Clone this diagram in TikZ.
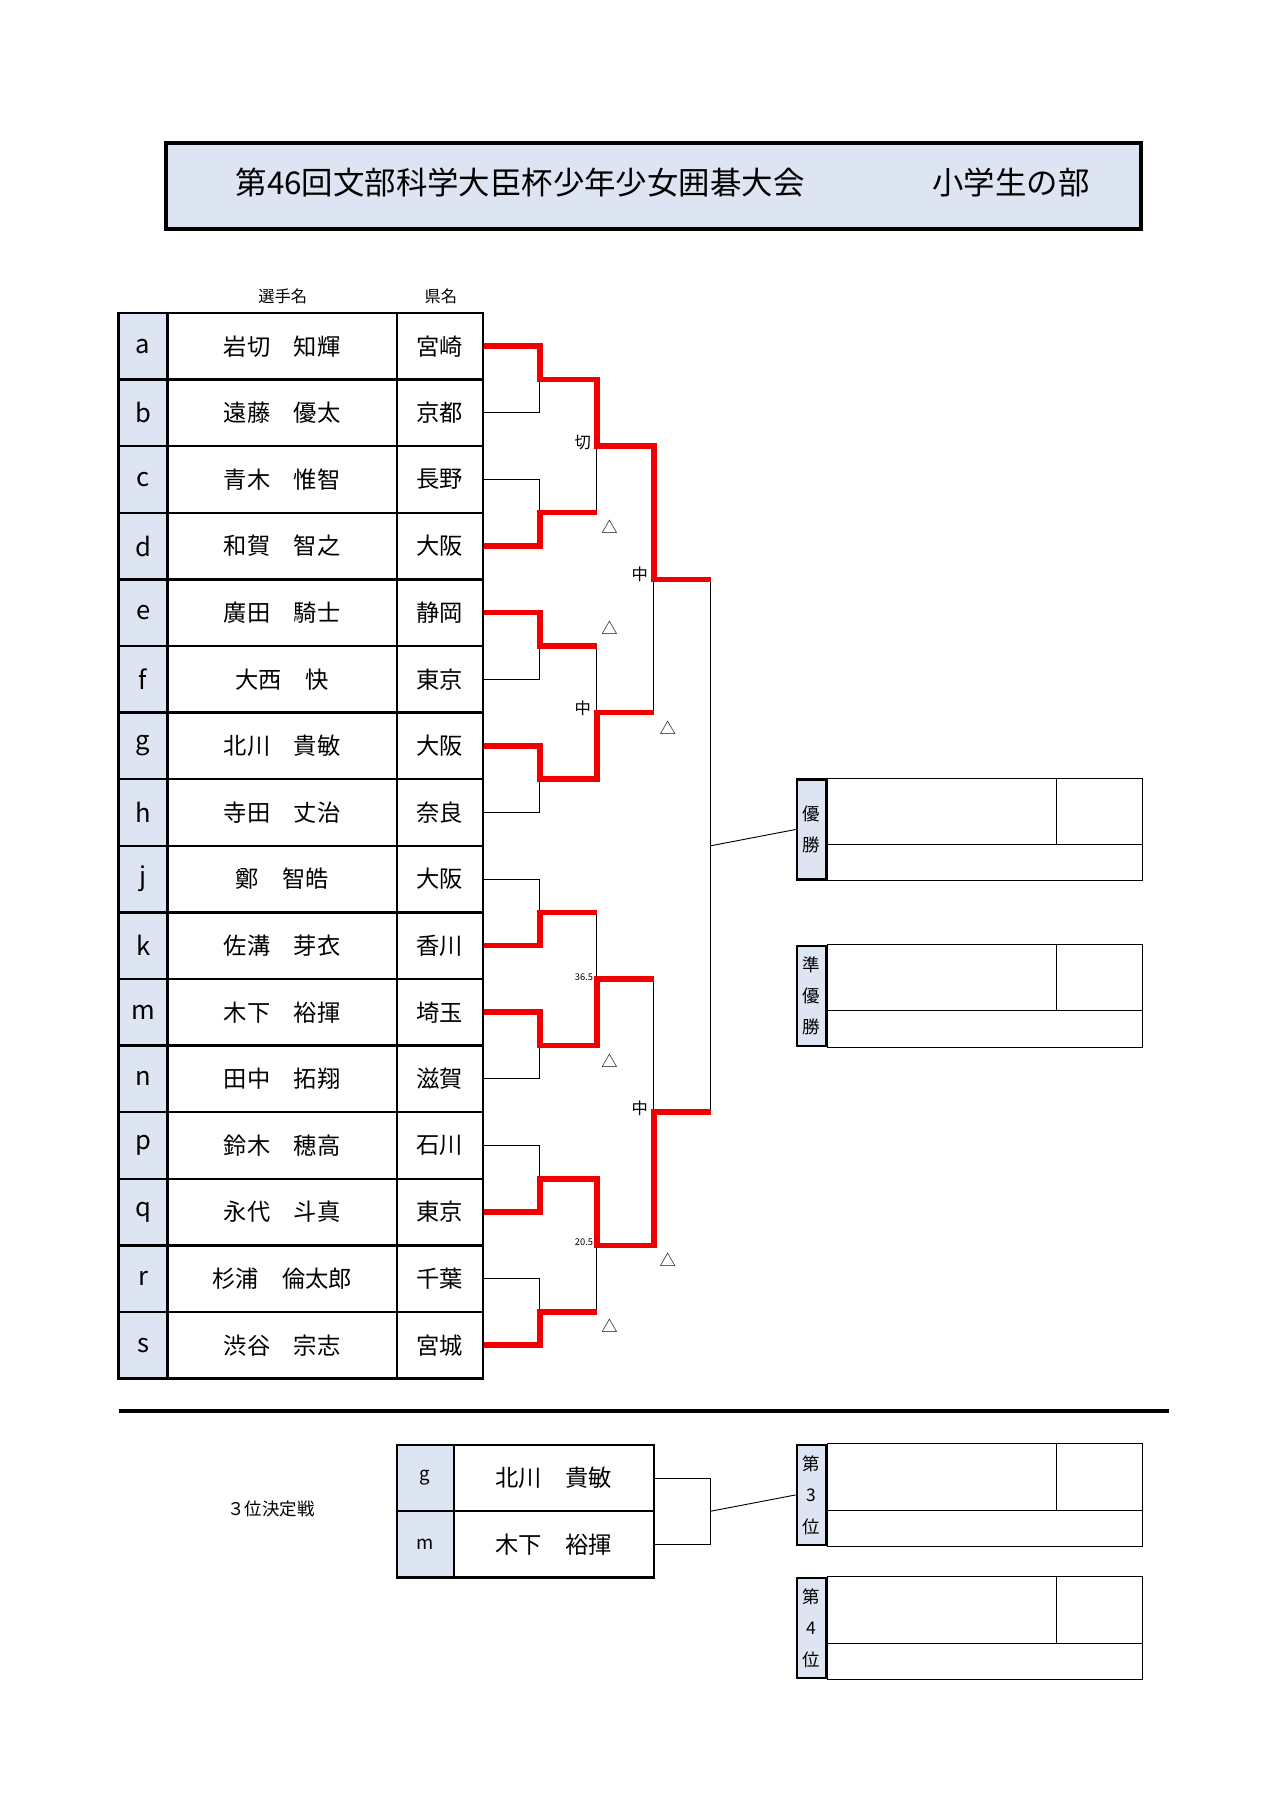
\documentclass[tikz,border=0pt]{standalone}
\usepackage{fontspec}
\setmainfont{Noto Sans CJK JP}
\usetikzlibrary{positioning}
\definecolor{cellblue}{RGB}{221,229,242}
\definecolor{winred}{RGB}{240,0,0}
\begin{document}
\begin{tikzpicture}[x=0.5pt, y=-0.5pt, thin,
  cell/.style = {draw, line width=1pt, minimum height=28.6pt, inner sep=0pt},
  lettercell/.style = {cell, fill=cellblue, minimum width=21pt, font=\fontsize{11}{11}\selectfont},
  namecell/.style = {cell, minimum width=98.5pt, font=\fontsize{10}{10}\selectfont},
  prefcell/.style = {cell, minimum width=37pt, font=\fontsize{10}{10}\selectfont},
  rank/.style = {draw, line width=1pt, fill=cellblue, minimum width=12.5pt, minimum height=43pt, inner sep=0pt, align=center, font=\fontsize{7.5}{13.5}\selectfont},
  resmark/.style = {font=\fontsize{7}{7}\selectfont, inner sep=0pt},
  score/.style = {font=\fontsize{4}{4}\selectfont, inner sep=0pt},
  win/.style = {winred, line width=2.4pt}]
\useasboundingbox (0,0) rectangle (1100,1555);

% title
\node[draw, line width=1.6pt, fill=cellblue, minimum width=419pt, minimum height=37pt] (title) at (562,160) {};
\node[font=\fontsize{13.5}{13.5}\selectfont] (titleL) at (447,157) {第46回文部科学大臣杯少年少女囲碁大会};
\node[font=\fontsize{13.5}{13.5}\selectfont] (titleR) at (869,157) {小学生の部};

% header
\node[font=\fontsize{7}{7}\selectfont] (hname) at (243,255) {選手名};
\node[font=\fontsize{7}{7}\selectfont] (hpref) at (379,255) {県名};

% players
\foreach \l/\n/\p [count=\i from 0] in {
  a/岩切　知輝/宮崎, b/遠藤　優太/京都, c/青木　惟智/長野, d/和賀　智之/大阪,
  e/廣田　騎士/静岡, f/大西　快/東京, g/北川　貴敏/大阪, h/寺田　丈治/奈良,
  j/鄭　智皓/大阪, k/佐溝　芽衣/香川, m/木下　裕揮/埼玉, n/田中　拓翔/滋賀,
  p/鈴木　穂高/石川, q/永代　斗真/東京, r/杉浦　倫太郎/千葉, s/渋谷　宗志/宮城}{
  \node[lettercell] (L\i) at (123,{297.6+57.25*\i}) {\l};
  \node[namecell] (N\i) at (242.5,{297.6+57.25*\i}) {\n};
  \node[prefcell] (P\i) at (378,{297.6+57.25*\i}) {\p};
}

% bracket points
\foreach \k in {0,...,7} \coordinate (r1-\k) at (464,{326.2+114.5*\k});
\foreach \k in {0,...,3} \coordinate (r2-\k) at (513,{383.5+229*\k});
\coordinate (r3-0) at (562,498);
\coordinate (r3-1) at (562,956);
\coordinate (f0) at (611,498);
\coordinate (f1) at (611,956);
\coordinate (fin) at (611,727);

% black lines
\foreach \k [evaluate=\k as \t using int(2*\k), evaluate=\k as \b using int(2*\k+1)] in {0,...,7}
  \draw (P\t.east) -| (r1-\k) |- (P\b.east);
\draw (r1-0) -| (r2-0) |- (r1-1);
\draw (r1-2) -| (r2-1) |- (r1-3);
\draw (r1-4) -| (r2-2) |- (r1-5);
\draw (r1-6) -| (r2-3) |- (r1-7);
\draw (r2-0) -| (r3-0) |- (r2-1);
\draw (r2-2) -| (r3-1) |- (r2-3);
\draw (r3-0) -- (f0) -- (f1) -- (r3-1);

% winners
\draw[win] (P0.east) -| (r1-0) -| (r2-0) -| (r3-0) -- (f0);
\draw[win] (P3.east) -| (r1-1) -- (r1-1 -| r2-0);
\draw[win] (P4.east) -| (r1-2) -- (r1-2 -| r2-1);
\draw[win] (P6.east) -| (r1-3) -| (r2-1) -- (r2-1 -| r3-0);
\draw[win] (P9.east) -| (r1-4) -- (r1-4 -| r2-2);
\draw[win] (P10.east) -| (r1-5) -| (r2-2) -- (r2-2 -| r3-1);
\draw[win] (P13.east) -| (r1-6) -| (r2-3) -| (r3-1) -- (f1);
\draw[win] (P15.east) -| (r1-7) -- (r1-7 -| r2-3);

% marks
\node[resmark] (m1) at (501,380) {切};
\node[resmark] (m2) at (524,453) {△};
\node[resmark] (m3) at (550,494) {中};
\node[resmark] (m4) at (524,540) {△};
\node[resmark] (m5) at (501,609) {中};
\node[resmark] (m6) at (574,626) {△};
\node[score] (s1) at (502,840) {36.5};
\node[resmark] (m7) at (524,912) {△};
\node[resmark] (m8) at (550,953) {中};
\node[score] (s2) at (502,1068) {20.5};
\node[resmark] (m9) at (574,1083) {△};
\node[resmark] (m10) at (524,1140) {△};

% result boxes
\foreach \name/\txt/\y in {W1/優\\勝/713, W2/準\\優\\勝/856, W3/第\\3\\位/1285, W4/第\\4\\位/1399.5}{
  \node[rank] (\name) at (697.5,\y) {\txt};
  \draw (\name.north east) rectangle ([xshift=135.5pt]\name.south east);
  \draw ([yshift=-28.5pt]\name.north east) -- ++(271,0);
  \draw ([xshift=98.5pt]\name.north east) -- ++(0,57);
}
\draw (fin) -- (W1.west);

% separator
\draw[line width=1.5pt] (102,1213) -- (1005,1213);

% third place
\node[font=\fontsize{7.5}{7.5}\selectfont] (third) at (233,1297) {３位決定戦};
\node[lettercell, minimum width=24.5pt, font=\fontsize{8}{8}\selectfont] (T0) at (365.5,1270.5) {g};
\node[lettercell, minimum width=24.5pt, font=\fontsize{8}{8}\selectfont] (T1) at (365.5,1327.5) {m};
\node[namecell, minimum width=86pt] (TN0) at (476,1270.5) {北川　貴敏};
\node[namecell, minimum width=86pt] (TN1) at (476,1327.5) {木下　裕揮};
\coordinate (t3) at (611,1299);
\draw (TN0.east) -| (t3) |- (TN1.east);
\draw (t3) -- (W3.west);
\end{tikzpicture}
\end{document}
